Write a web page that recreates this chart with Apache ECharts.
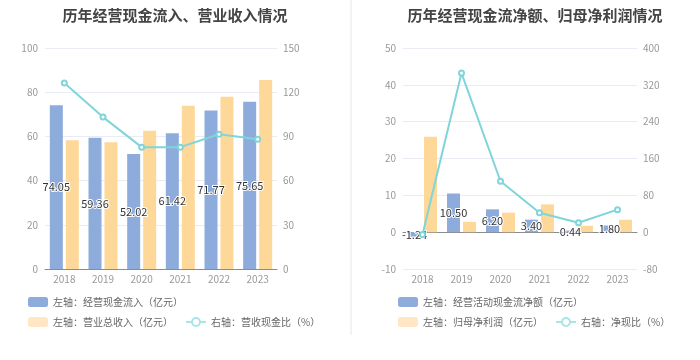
<!DOCTYPE html>
<html><head><meta charset="utf-8">
<script src="https://cdn.jsdelivr.net/npm/echarts@6/dist/echarts.min.js"></script>
<style>html,body{margin:0;padding:0;background:#fff}#c{width:700px;height:360px}</style>
</head><body><div id="c"></div>
<script>
const years = ['2018','2019','2020','2021','2022','2023'];
// Left chart
const cashInflow = [74.05, 59.36, 52.02, 61.42, 71.77, 75.65];
const revenue = [58.3, 57.3, 62.6, 73.9, 77.9, 85.5];
const cashRevRatio = [126.2, 103.1, 82.7, 82.7, 91.5, 88.1];
// Right chart
const netCashFlow = [-1.24, 10.50, 6.20, 3.40, 0.44, 1.80];
const netProfit = [25.9, 2.8, 5.3, 7.55, 1.74, 3.38];
const netCashRatio = [-5, 345.6, 110.6, 42.3, 20.5, 48.9];

const titles = ['历年经营现金流入、营业收入情况', '历年经营现金流净额、归母净利润情况'];
const names = {
  l1: '左轴：经营现金流入（亿元）', l2: '左轴：营业总收入（亿元）', l3: '右轴：营收现金比（%）',
  r1: '左轴：经营活动现金流净额（亿元）', r2: '左轴：归母净利润（亿元）', r3: '右轴：净现比（%）'
};

const FONT = 'Noto Sans CJK SC';
const BLUE = '#8dacdb', ORANGE = '#fed899', CYAN = '#7fd5d9', LCYAN = '#a9e4e7';
const axisLabel = {color: '#999', fontSize: 10, fontFamily: FONT};
const splitLine = {show: true, lineStyle: {color: '#e9ecf4', width: 1}};
const barLabel = {show: true, position: 'inside', color: '#333', fontSize: 11, fontFamily: FONT,
  textBorderColor: '#fff', textBorderWidth: 2, formatter: p => p.value.toFixed(2)};

function legendText(){ return {color: '#666', fontSize: 10, fontFamily: FONT}; }
function lineLegendItem(name){
  return {name, itemStyle: {color: LCYAN, borderColor: LCYAN, borderWidth: 1.5}, lineStyle: {color: LCYAN, width: 2}};
}

const chart = echarts.init(document.getElementById('c'), null, {renderer: 'canvas'});
chart.setOption({
  animation: false,
  textStyle: {fontFamily: FONT},
  graphic: [{type: 'rect', shape: {x: 350, y: 0, width: 2, height: 335}, style: {fill: '#f3f3f3'}}],
  title: [
    {text: titles[0], left: 170, textAlign: 'center', top: 3, textStyle: {fontSize: 15, fontWeight: 'bold', color: '#444', fontFamily: FONT}},
    {text: titles[1], left: 530, textAlign: 'center', top: 3, textStyle: {fontSize: 15, fontWeight: 'bold', color: '#444', fontFamily: FONT}}
  ],
  legend: [
    {left: 28, top: 297, padding: 0, itemWidth: 20, itemHeight: 10, textStyle: legendText(), data: [{name: names.l1, itemStyle: {color: BLUE}}]},
    {left: 28, top: 317, padding: 0, itemWidth: 20, itemHeight: 10, itemGap: 12, textStyle: legendText(),
      data: [{name: names.l2, itemStyle: {color: '#ffe7c6'}}, lineLegendItem(names.l3)]},
    {left: 398, top: 297, padding: 0, itemWidth: 20, itemHeight: 10, textStyle: legendText(), data: [{name: names.r1, itemStyle: {color: BLUE}}]},
    {left: 398, top: 317, padding: 0, itemWidth: 20, itemHeight: 10, itemGap: 12, textStyle: legendText(),
      data: [{name: names.r2, itemStyle: {color: '#ffe7c6'}}, lineLegendItem(names.r3)]}
  ],
  grid: [
    {left: 45, right: 423, top: 48, bottom: 91},
    {left: 403, right: 63, top: 48, bottom: 91}
  ],
  xAxis: [
    {type: 'category', gridIndex: 0, data: years, axisLabel: Object.assign({margin: 5}, axisLabel),
      axisLine: {lineStyle: {color: '#8c8c8c'}}, axisTick: {alignWithLabel: true, length: 4, lineStyle: {color: '#8c8c8c'}}},
    {type: 'category', gridIndex: 1, data: years, axisLabel: Object.assign({margin: 5}, axisLabel),
      axisLine: {show: false, onZero: false}, axisTick: {show: false}},
    {type: 'category', gridIndex: 1, data: years, position: 'bottom', axisLabel: {show: false},
      axisLine: {onZero: true, lineStyle: {color: '#8c8c8c'}}, axisTick: {alignWithLabel: true, length: 4, lineStyle: {color: '#8c8c8c'}}}
  ],
  yAxis: [
    {type: 'value', gridIndex: 0, min: 0, max: 100, interval: 20, axisLabel: Object.assign({margin: 7}, axisLabel), splitLine, axisLine: {show: false}, axisTick: {show: false}},
    {type: 'value', gridIndex: 0, min: 0, max: 150, interval: 30, axisLabel: Object.assign({margin: 6}, axisLabel), splitLine: {show: false}, axisLine: {show: false}, axisTick: {show: false}},
    {type: 'value', gridIndex: 1, min: -10, max: 50, interval: 10, axisLabel: Object.assign({margin: 7}, axisLabel), splitLine, axisLine: {show: false}, axisTick: {show: false}},
    {type: 'value', gridIndex: 1, min: -80, max: 400, interval: 80, axisLabel: Object.assign({margin: 6}, axisLabel), splitLine: {show: false}, axisLine: {show: false}, axisTick: {show: false}}
  ],
  series: [
    {name: names.l1, type: 'bar', xAxisIndex: 0, yAxisIndex: 0, data: cashInflow, barWidth: 13, barGap: '23%', itemStyle: {color: BLUE}, label: barLabel},
    {name: names.l2, type: 'bar', xAxisIndex: 0, yAxisIndex: 0, data: revenue, barWidth: 13, barGap: '23%', itemStyle: {color: ORANGE}},
    {name: names.l3, type: 'line', xAxisIndex: 0, yAxisIndex: 1, data: cashRevRatio, symbol: 'emptyCircle', symbolSize: 5,
      itemStyle: {color: CYAN}, lineStyle: {color: CYAN, width: 2}, z: 5},
    {name: names.r1, type: 'bar', xAxisIndex: 1, yAxisIndex: 2, data: netCashFlow, barWidth: 13, barGap: '23%', itemStyle: {color: BLUE}, label: barLabel},
    {name: names.r2, type: 'bar', xAxisIndex: 1, yAxisIndex: 2, data: netProfit, barWidth: 13, barGap: '23%', itemStyle: {color: ORANGE}},
    {name: names.r3, type: 'line', xAxisIndex: 1, yAxisIndex: 3, data: netCashRatio, symbol: 'emptyCircle', symbolSize: 5,
      itemStyle: {color: CYAN}, lineStyle: {color: CYAN, width: 2}, z: 5}
  ]
});
</script></body></html>
